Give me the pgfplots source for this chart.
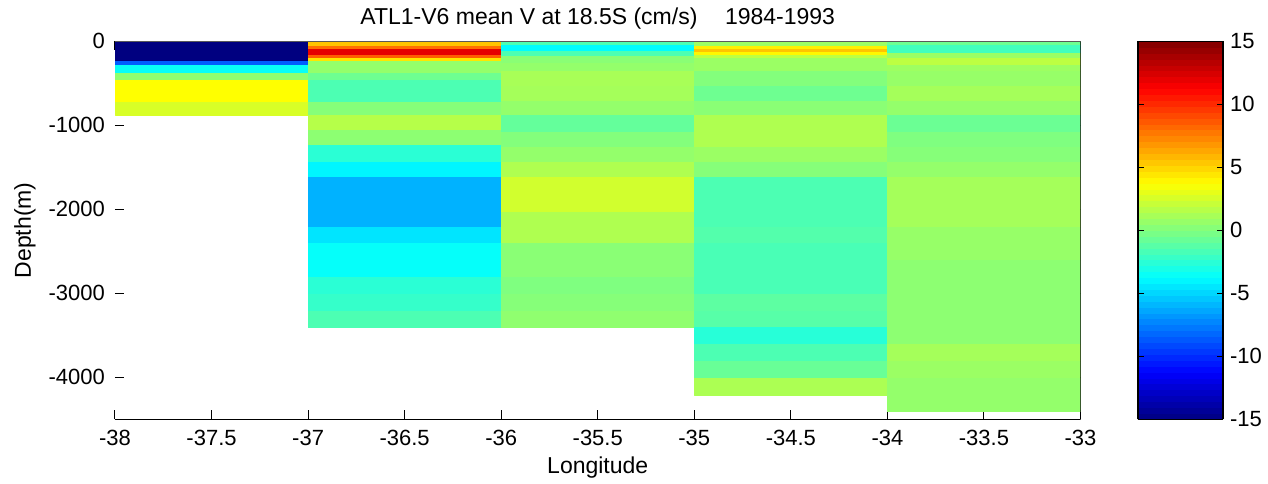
\documentclass[border=0pt]{standalone}
\usepackage{fontspec}
\setmainfont{Liberation Sans}
\usepackage{pgfplots}
\pgfplotsset{compat=1.18}
\begin{document}
\begin{tikzpicture}
\useasboundingbox (-57.5pt,-31.85pt) rectangle (576.5pt,209.65pt);
\begin{axis}[
  scale only axis,
  width=482.75pt, height=189pt,
  at={(0,0)}, anchor=south west,
  xmin=-38, xmax=-33, ymin=-4500, ymax=0,
  xtick={-38,-37.5,...,-33},
  ytick={-4000,-3000,-2000,-1000,0},
  /pgf/number format/assume math mode=true,
  /pgf/number format/1000 sep={},
  tick label style={font=\fontsize{11}{13}\selectfont},
  xticklabel style={anchor=base, yshift=-12.9pt},
  yticklabel style={xshift=-1.5pt},
  tick align=inside,
  major tick length=4.5pt,
  axis line style={draw=none},
  every tick/.style={black, line width=0.5pt},
  colormap/jet,
  point meta min=-15, point meta max=15,
  colorbar sampled,
  colorbar style={
    samples=65,
    width=42.5pt,
    at={(parent axis.north east)}, anchor=north west, xshift=20.25pt,
    ytick={-15,-10,...,15},
    /pgf/number format/assume math mode=true,
    tick label style={font=\fontsize{11}{13}\selectfont},
    tick align=inside,
    major tick length=3pt,
    axis line style={black, line width=0.6pt},
  },
  title={ATL1-V6 mean V at 18.5S (cm/s)\hspace{1.2em}1984-1993},
  every axis title/.style={at={(0.5,1)}, anchor=base, yshift=8.2pt, font=\fontsize{11.5}{13}\selectfont},
  xlabel={Longitude},
  every axis x label/.style={at={(0.5,0)}, anchor=base, yshift=-26.9pt, font=\fontsize{11.5}{13}\selectfont},
  ylabel={Depth(m)},
  every axis y label/.style={at={([xshift=-45pt]axis description cs:0,0.5)}, rotate=90, anchor=center, font=\fontsize{11.5}{13}\selectfont},
]
% column 1: -38 to -37
\addplot[patch, patch type=rectangle, shader=faceted, faceted color=mapped color, line width=0.3pt, point meta=explicit] coordinates {
(-38,0)[-15] (-37,0)[-15] (-37,-243)[-15] (-38,-243)[-15]
(-38,-243)[-8.5] (-37,-243)[-8.5] (-37,-283)[-8.5] (-38,-283)[-8.5]
(-38,-283)[-3.5] (-37,-283)[-3.5] (-37,-375)[-3.5] (-38,-375)[-3.5]
(-38,-375)[0.5] (-37,-375)[0.5] (-37,-463)[0.5] (-38,-463)[0.5]
(-38,-463)[3.75] (-37,-463)[3.75] (-37,-722)[3.75] (-38,-722)[3.75]
(-38,-722)[2.6] (-37,-722)[2.6] (-37,-881)[2.6] (-38,-881)[2.6]
};
% column 2: -37 to -36
\addplot[patch, patch type=rectangle, shader=faceted, faceted color=mapped color, line width=0.3pt, point meta=explicit] coordinates {
(-37,0)[5.5] (-36,0)[5.5] (-36,-56)[5.5] (-37,-56)[5.5]
(-37,-56)[8] (-36,-56)[8] (-36,-96)[8] (-37,-96)[8]
(-37,-96)[12] (-36,-96)[12] (-36,-164)[12] (-37,-164)[12]
(-37,-164)[8.5] (-36,-164)[8.5] (-36,-203)[8.5] (-37,-203)[8.5]
(-37,-203)[4.5] (-36,-203)[4.5] (-36,-244)[4.5] (-37,-244)[4.5]
(-37,-244)[0.6] (-36,-244)[0.6] (-36,-382)[0.6] (-37,-382)[0.6]
(-37,-382)[-0.5] (-36,-382)[-0.5] (-36,-462)[-0.5] (-37,-462)[-0.5]
(-37,-462)[-1.5] (-36,-462)[-1.5] (-36,-722)[-1.5] (-37,-722)[-1.5]
(-37,-722)[0.2] (-36,-722)[0.2] (-36,-881)[0.2] (-37,-881)[0.2]
(-37,-881)[1.6] (-36,-881)[1.6] (-36,-1060)[1.6] (-37,-1060)[1.6]
(-37,-1060)[0.4] (-36,-1060)[0.4] (-36,-1240)[0.4] (-37,-1240)[0.4]
(-37,-1240)[-2.5] (-36,-1240)[-2.5] (-36,-1440)[-2.5] (-37,-1440)[-2.5]
(-37,-1440)[-4] (-36,-1440)[-4] (-36,-1620)[-4] (-37,-1620)[-4]
(-37,-1620)[-6] (-36,-1620)[-6] (-36,-2210)[-6] (-37,-2210)[-6]
(-37,-2210)[-4.5] (-36,-2210)[-4.5] (-36,-2400)[-4.5] (-37,-2400)[-4.5]
(-37,-2400)[-3.6] (-36,-2400)[-3.6] (-36,-2810)[-3.6] (-37,-2810)[-3.6]
(-37,-2810)[-2.5] (-36,-2810)[-2.5] (-36,-3010)[-2.5] (-37,-3010)[-2.5]
(-37,-3010)[-2.2] (-36,-3010)[-2.2] (-36,-3210)[-2.2] (-37,-3210)[-2.2]
(-37,-3210)[-1.5] (-36,-3210)[-1.5] (-36,-3410)[-1.5] (-37,-3410)[-1.5]
};
% column 3: -36 to -35
\addplot[patch, patch type=rectangle, shader=faceted, faceted color=mapped color, line width=0.3pt, point meta=explicit] coordinates {
(-36,0)[-1.5] (-35,0)[-1.5] (-35,-48)[-1.5] (-36,-48)[-1.5]
(-36,-48)[-3.8] (-35,-48)[-3.8] (-35,-120)[-3.8] (-36,-120)[-3.8]
(-36,-120)[-1.5] (-35,-120)[-1.5] (-35,-180)[-1.5] (-36,-180)[-1.5]
(-36,-180)[0.3] (-35,-180)[0.3] (-35,-260)[0.3] (-36,-260)[0.3]
(-36,-260)[0.6] (-35,-260)[0.6] (-35,-360)[0.6] (-36,-360)[0.6]
(-36,-360)[1.2] (-35,-360)[1.2] (-35,-540)[1.2] (-36,-540)[1.2]
(-36,-540)[1.1] (-35,-540)[1.1] (-35,-720)[1.1] (-36,-720)[1.1]
(-36,-720)[0.6] (-35,-720)[0.6] (-35,-880)[0.6] (-36,-880)[0.6]
(-36,-880)[-0.8] (-35,-880)[-0.8] (-35,-1080)[-0.8] (-36,-1080)[-0.8]
(-36,-1080)[0.1] (-35,-1080)[0.1] (-35,-1260)[0.1] (-36,-1260)[0.1]
(-36,-1260)[0.6] (-35,-1260)[0.6] (-35,-1440)[0.6] (-36,-1440)[0.6]
(-36,-1440)[1.4] (-35,-1440)[1.4] (-35,-1620)[1.4] (-36,-1620)[1.4]
(-36,-1620)[2.4] (-35,-1620)[2.4] (-35,-2035)[2.4] (-36,-2035)[2.4]
(-36,-2035)[1.4] (-35,-2035)[1.4] (-35,-2210)[1.4] (-36,-2210)[1.4]
(-36,-2210)[1.4] (-35,-2210)[1.4] (-35,-2410)[1.4] (-36,-2410)[1.4]
(-36,-2410)[0.3] (-35,-2410)[0.3] (-35,-2810)[0.3] (-36,-2810)[0.3]
(-36,-2810)[0] (-35,-2810)[0] (-35,-3010)[0] (-36,-3010)[0]
(-36,-3010)[0.2] (-35,-3010)[0.2] (-35,-3210)[0.2] (-36,-3210)[0.2]
(-36,-3210)[0.5] (-35,-3210)[0.5] (-35,-3410)[0.5] (-36,-3410)[0.5]
};
% column 4: -35 to -34
\addplot[patch, patch type=rectangle, shader=faceted, faceted color=mapped color, line width=0.3pt, point meta=explicit] coordinates {
(-35,0)[0.8] (-34,0)[0.8] (-34,-56)[0.8] (-35,-56)[0.8]
(-35,-56)[4.2] (-34,-56)[4.2] (-34,-96)[4.2] (-35,-96)[4.2]
(-35,-96)[5.5] (-34,-96)[5.5] (-34,-136)[5.5] (-35,-136)[5.5]
(-35,-136)[4] (-34,-136)[4] (-34,-164)[4] (-35,-164)[4]
(-35,-164)[1.8] (-34,-164)[1.8] (-34,-203)[1.8] (-35,-203)[1.8]
(-35,-203)[0.8] (-34,-203)[0.8] (-34,-360)[0.8] (-35,-360)[0.8]
(-35,-360)[0.1] (-34,-360)[0.1] (-34,-540)[0.1] (-35,-540)[0.1]
(-35,-540)[-0.5] (-34,-540)[-0.5] (-34,-720)[-0.5] (-35,-720)[-0.5]
(-35,-720)[0.3] (-34,-720)[0.3] (-34,-880)[0.3] (-35,-880)[0.3]
(-35,-880)[1.4] (-34,-880)[1.4] (-34,-1260)[1.4] (-35,-1260)[1.4]
(-35,-1260)[0.8] (-34,-1260)[0.8] (-34,-1440)[0.8] (-35,-1440)[0.8]
(-35,-1440)[0.2] (-34,-1440)[0.2] (-34,-1620)[0.2] (-35,-1620)[0.2]
(-35,-1620)[-1.5] (-34,-1620)[-1.5] (-34,-2210)[-1.5] (-35,-2210)[-1.5]
(-35,-2210)[-1.3] (-34,-2210)[-1.3] (-34,-2410)[-1.3] (-35,-2410)[-1.3]
(-35,-2410)[-1.6] (-34,-2410)[-1.6] (-34,-3010)[-1.6] (-35,-3010)[-1.6]
(-35,-3010)[-1.0] (-34,-3010)[-1.0] (-34,-3210)[-1.0] (-35,-3210)[-1.0]
(-35,-3210)[-1.2] (-34,-3210)[-1.2] (-34,-3410)[-1.2] (-35,-3410)[-1.2]
(-35,-3410)[-2.6] (-34,-3410)[-2.6] (-34,-3610)[-2.6] (-35,-3610)[-2.6]
(-35,-3610)[-1.5] (-34,-3610)[-1.5] (-34,-3810)[-1.5] (-35,-3810)[-1.5]
(-35,-3810)[-0.7] (-34,-3810)[-0.7] (-34,-4010)[-0.7] (-35,-4010)[-0.7]
(-35,-4010)[1.3] (-34,-4010)[1.3] (-34,-4210)[1.3] (-35,-4210)[1.3]
};
% column 5: -34 to -33
\addplot[patch, patch type=rectangle, shader=faceted, faceted color=mapped color, line width=0.3pt, point meta=explicit] coordinates {
(-34,0)[-0.5] (-33,0)[-0.5] (-33,-48)[-0.5] (-34,-48)[-0.5]
(-34,-48)[-1.8] (-33,-48)[-1.8] (-33,-140)[-1.8] (-34,-140)[-1.8]
(-34,-140)[0.8] (-33,-140)[0.8] (-33,-200)[0.8] (-34,-200)[0.8]
(-34,-200)[1.8] (-33,-200)[1.8] (-33,-280)[1.8] (-34,-280)[1.8]
(-34,-280)[0.9] (-33,-280)[0.9] (-33,-360)[0.9] (-34,-360)[0.9]
(-34,-360)[0.7] (-33,-360)[0.7] (-33,-540)[0.7] (-34,-540)[0.7]
(-34,-540)[1.1] (-33,-540)[1.1] (-33,-720)[1.1] (-34,-720)[1.1]
(-34,-720)[0.6] (-33,-720)[0.6] (-33,-880)[0.6] (-34,-880)[0.6]
(-34,-880)[-0.6] (-33,-880)[-0.6] (-33,-1080)[-0.6] (-34,-1080)[-0.6]
(-34,-1080)[0] (-33,-1080)[0] (-33,-1260)[0] (-34,-1260)[0]
(-34,-1260)[0.2] (-33,-1260)[0.2] (-33,-1440)[0.2] (-34,-1440)[0.2]
(-34,-1440)[0.6] (-33,-1440)[0.6] (-33,-1620)[0.6] (-34,-1620)[0.6]
(-34,-1620)[1.1] (-33,-1620)[1.1] (-33,-2210)[1.1] (-34,-2210)[1.1]
(-34,-2210)[0.7] (-33,-2210)[0.7] (-33,-2610)[0.7] (-34,-2610)[0.7]
(-34,-2610)[0.4] (-33,-2610)[0.4] (-33,-3610)[0.4] (-34,-3610)[0.4]
(-34,-3610)[1.1] (-33,-3610)[1.1] (-33,-3810)[1.1] (-34,-3810)[1.1]
(-34,-3810)[0.8] (-33,-3810)[0.8] (-33,-4010)[0.8] (-34,-4010)[0.8]
(-34,-4010)[0.6] (-33,-4010)[0.6] (-33,-4410)[0.6] (-34,-4410)[0.6]
};
\draw[black, line width=0.6pt] (rel axis cs:0,0) -- (rel axis cs:1,0) -- (rel axis cs:1,1);
\draw[black!65, line width=0.6pt] (rel axis cs:0,1) -- (rel axis cs:1,1);
\end{axis}
\end{tikzpicture}
\end{document}
